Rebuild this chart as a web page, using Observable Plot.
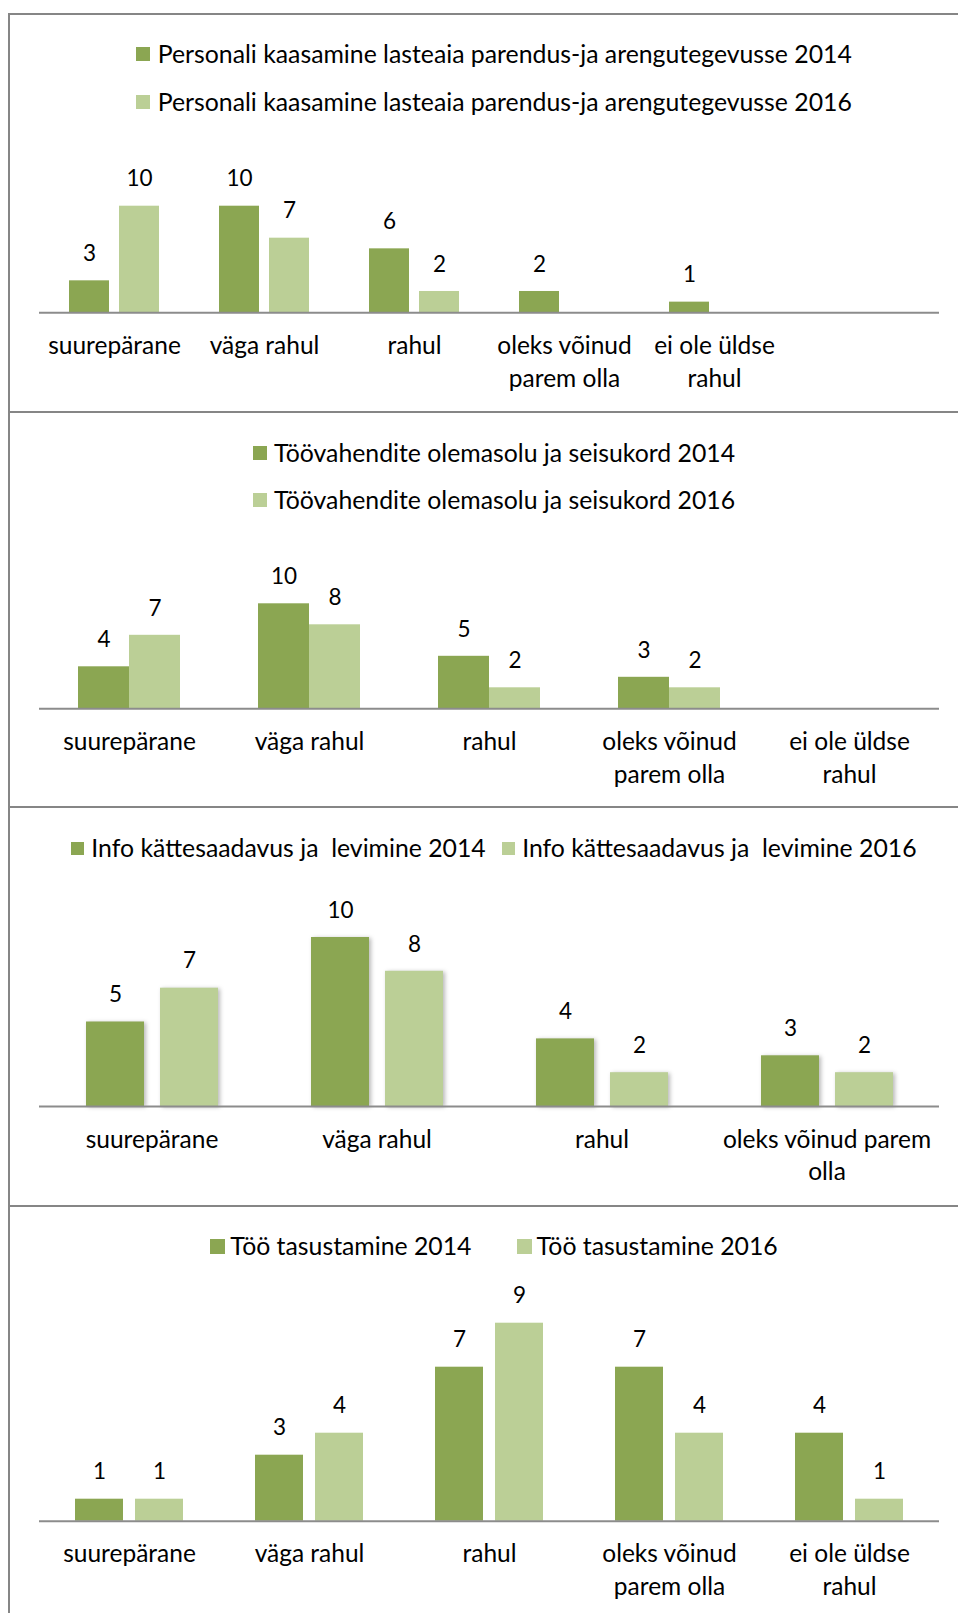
<!DOCTYPE html>
<html><head><meta charset="utf-8">
<script src="https://cdn.jsdelivr.net/npm/d3@7"></script>
<script src="https://cdn.jsdelivr.net/npm/@observablehq/plot@0.6"></script>
<style>
body{margin:0;background:#fff;font-family:Lato,"Open Sans",sans-serif;}
#page{position:relative;width:958px;height:1613px;overflow:hidden;background:#fff;}
.panel{position:absolute;left:8px;width:950px;border-top:2px solid #868686;border-left:2px solid #868686;box-sizing:border-box;}
.legend{position:absolute;left:0;width:988px;display:flex;justify-content:center;}
.lg-block{display:flex;}
.lg-item{display:flex;align-items:center;white-space:pre;font-size:24.8px;color:#000;height:30px;line-height:30px;}
.sw{display:inline-block;flex:none;}
.plotbox{position:absolute;left:10px;}
</style></head><body><div id="page"></div>
<script>
// ---------- data ----------
const categories = ["suurepärane", "väga rahul", "rahul", "oleks võinud parem olla", "ei ole üldse rahul"];
const tickLabels = ["suurepärane", "väga rahul", "rahul", "oleks võinud\nparem olla", "ei ole üldse\nrahul"];
const infoCategories = ["suurepärane", "väga rahul", "rahul", "oleks võinud parem olla"];
const infoTickLabels = ["suurepärane", "väga rahul", "rahul", "oleks võinud parem\nolla"];
const years = ["2014", "2016"];
const colors = ["#8BA652", "#BBCF96"];

const personaliSeries = ["Personali kaasamine lasteaia parendus-ja arengutegevusse 2014", "Personali kaasamine lasteaia parendus-ja arengutegevusse 2016"];
const personali2014 = [3, 10, 6, 2, 1];
const personali2016 = [10, 7, 2, null, null];

const toovahendSeries = ["Töövahendite olemasolu ja seisukord 2014", "Töövahendite olemasolu ja seisukord 2016"];
const toovahend2014 = [4, 10, 5, 3, null];
const toovahend2016 = [7, 8, 2, 2, null];

const infoSeries = ["Info kättesaadavus ja  levimine 2014", "Info kättesaadavus ja  levimine 2016"];
const info2014 = [5, 10, 4, 3];
const info2016 = [7, 8, 2, 2];

const tasuSeries = ["Töö tasustamine 2014", "Töö tasustamine 2016"];
const tasu2014 = [1, 3, 7, 7, 4];
const tasu2016 = [1, 4, 9, 4, 1];

// ---------- layout ----------
const panels = [
  {cats: [...categories, ""], labels: [...tickLabels, ""], series: personaliSeries, a: personali2014, b: personali2016,
   top: 13, height: 398, svgTop: 15, svgH: 396, mT: 190.7, mB: 98.7, yMax: 10, pI: 0.2, pO: 0.6,
   legend: {rows: true, centers: [54, 101.7], sw: 14, swGap: 7.6}},
  {cats: categories, labels: tickLabels, series: toovahendSeries, a: toovahend2014, b: toovahend2016,
   top: 411, height: 395, svgTop: 413, svgH: 393, mT: 190.3, mB: 97.7, yMax: 10, pI: 0, pO: 0.748,
   legend: {rows: true, centers: [452.7, 500], sw: 14, swGap: 7}},
  {cats: infoCategories, labels: infoTickLabels, series: infoSeries, a: info2014, b: info2016,
   top: 806, height: 399, svgTop: 808, svgH: 397, mT: 129, mB: 99, yMax: 10, pI: 0.22, pO: 0.62, shadow: true,
   legend: {rows: false, centers: [848.3], sw: 12.5, swGap: 7.4, itemGap: 16.5}},
  {cats: categories, labels: tickLabels, series: tasuSeries, a: tasu2014, b: tasu2016,
   top: 1205, height: 410, svgTop: 1207, svgH: 406, mT: 115.7, mB: 92.3, yMax: 9, pI: 0.2, pO: 0.6,
   legend: {rows: false, centers: [1246], sw: 15, swGap: 5, itemGap: 45}}
];

const page = document.getElementById("page");
const VALUE_FONT = 22.5;
const LABEL_FONT = 24.5;

panels.forEach(p => {
  const border = document.createElement("div");
  border.className = "panel";
  border.style.top = p.top + "px";
  border.style.height = p.height + "px";
  page.appendChild(border);

  // legend
  const lg = document.createElement("div");
  lg.className = "legend";
  lg.style.top = (p.legend.centers[0] - 15) + "px";
  const block = document.createElement("div");
  block.className = "lg-block";
  block.style.flexDirection = p.legend.rows ? "column" : "row";
  if (p.legend.rows) block.style.rowGap = (p.legend.centers[1] - p.legend.centers[0] - 30) + "px";
  else block.style.columnGap = p.legend.itemGap + "px";
  p.series.forEach((name, i) => {
    const item = document.createElement("div");
    item.className = "lg-item";
    const sw = document.createElement("span");
    sw.className = "sw";
    sw.style.width = sw.style.height = p.legend.sw + "px";
    sw.style.background = colors[i];
    sw.style.marginRight = p.legend.swGap + "px";
    item.appendChild(sw);
    item.appendChild(document.createTextNode(name));
    block.appendChild(item);
  });
  lg.appendChild(block);
  page.appendChild(lg);

  // data rows
  const rows = [];
  p.cats.forEach((c, i) => {
    if (i < p.a.length) {
      rows.push({cat: c, year: years[0], value: p.a[i]});
      rows.push({cat: c, year: years[1], value: p.b[i]});
    }
  });
  const valid = rows.filter(d => d.value != null);

  const chart = Plot.plot({
    width: 948,
    height: p.svgH,
    marginLeft: 29,
    marginRight: 19,
    marginTop: p.mT,
    marginBottom: p.mB,
    facet: {marginTop: 0, marginBottom: 0, marginLeft: 0, marginRight: 0},
    style: {background: "transparent", fontFamily: "Lato, 'Open Sans', sans-serif", fontSize: VALUE_FONT + "px", color: "#000", overflow: "visible"},
    fx: {domain: p.cats, padding: 0, axis: null},
    x: {domain: years, paddingInner: p.pI, paddingOuter: p.pO, axis: null},
    y: {domain: [0, p.yMax], axis: null},
    color: {domain: years, range: colors},
    marks: [
      Plot.barY(valid, {fx: "cat", x: "year", y: "value", fill: "year",
        imageFilter: p.shadow ? "drop-shadow(2px 1px 2px rgba(0,0,0,0.28))" : undefined}),
      Plot.ruleY(p.cats, {fx: d => d, y: d => 0, stroke: "#8c8c8c", strokeWidth: 2}),
      Plot.text(valid, {fx: "cat", x: "year", y: "value", text: d => String(d.value), dy: -27, fill: "#000", fontSize: VALUE_FONT}),
      Plot.text(p.cats, {fx: d => d, frameAnchor: "bottom", text: (d, i) => p.labels[i], lineAnchor: "top", dy: 18, lineHeight: 1.33, fill: "#000", fontSize: LABEL_FONT})
    ]
  });
  const box = document.createElement("div");
  box.className = "plotbox";
  box.style.top = p.svgTop + "px";
  box.appendChild(chart);
  page.appendChild(box);
});
</script></body></html>
